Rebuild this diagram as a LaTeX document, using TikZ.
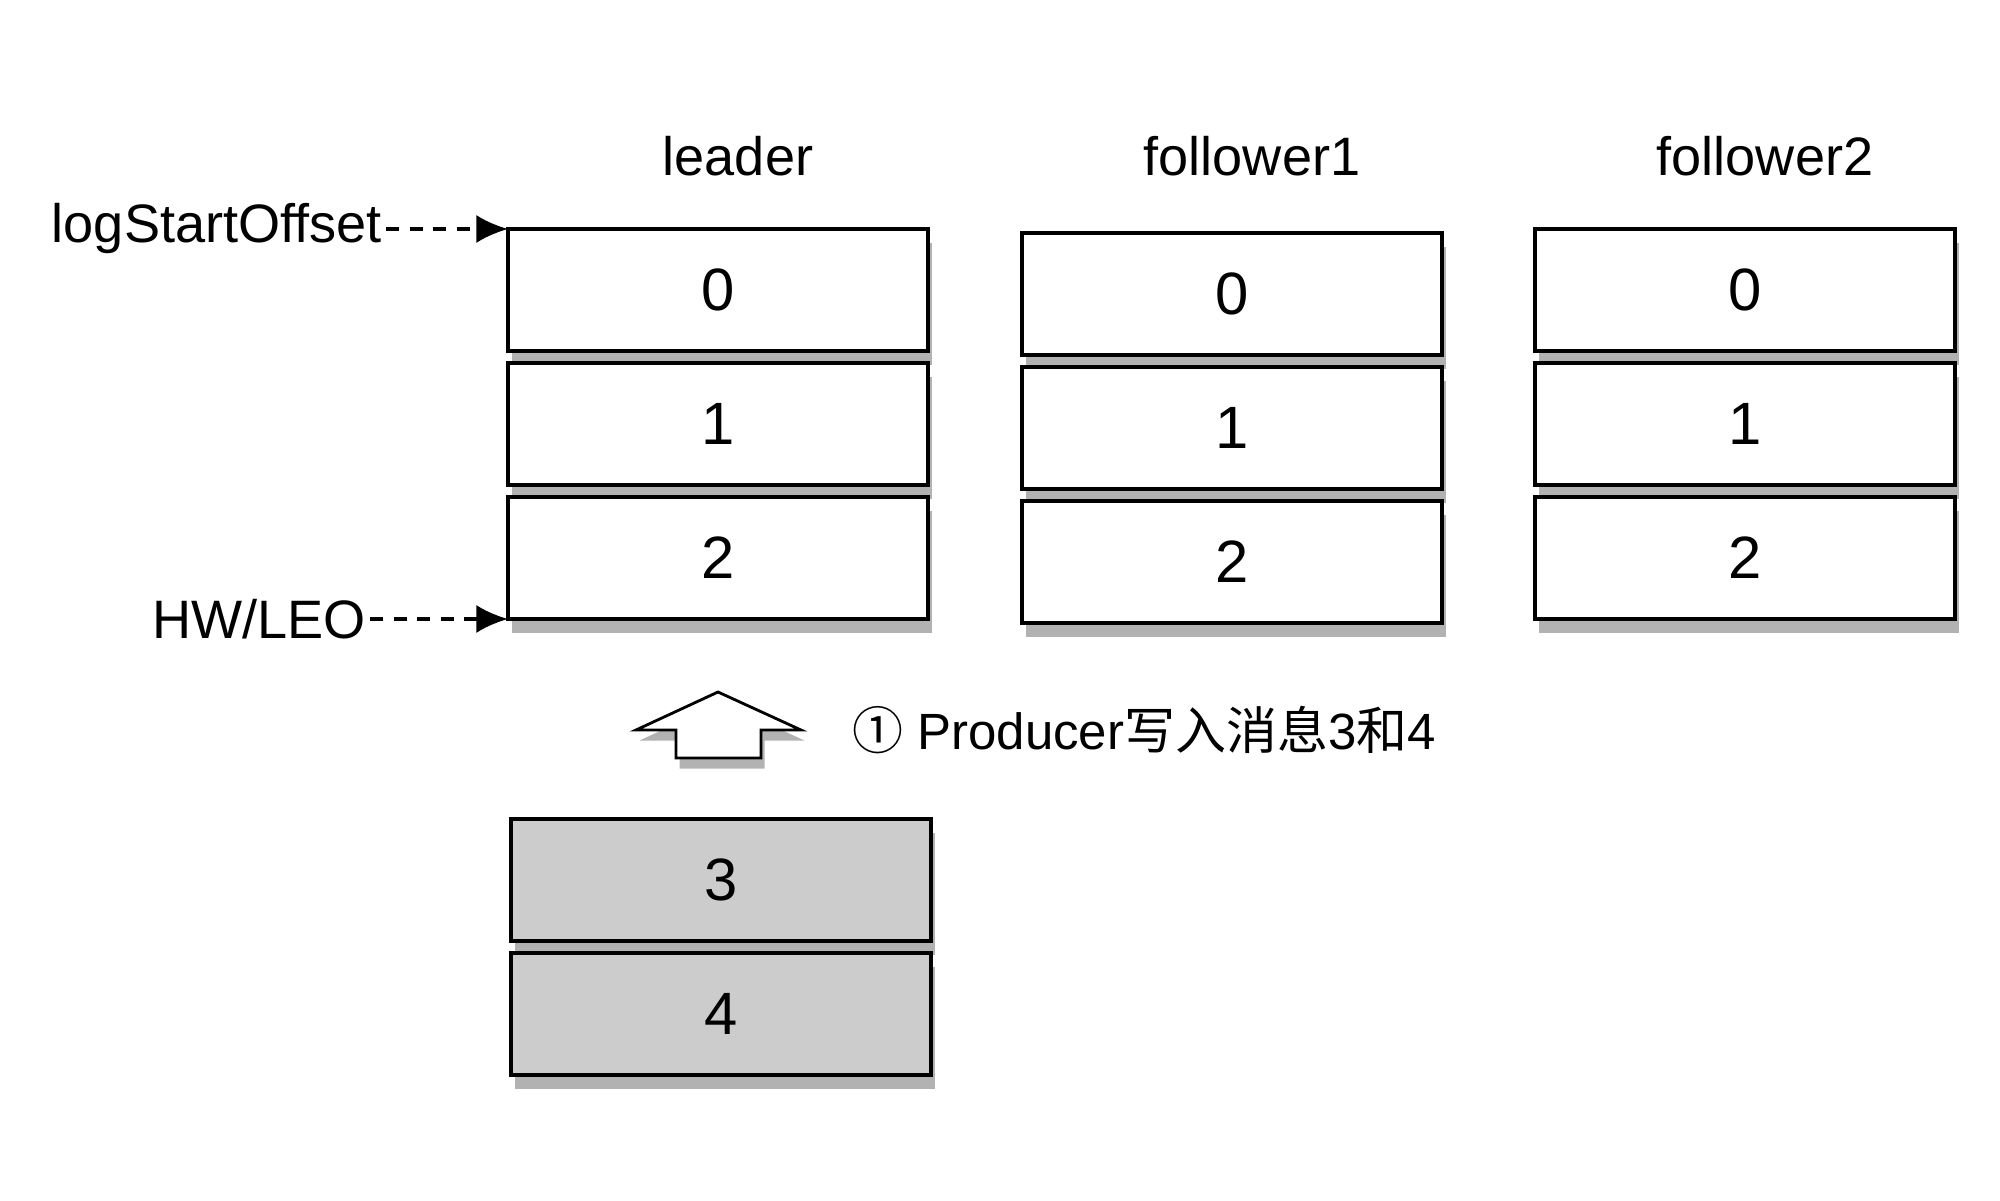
\documentclass[tikz,border=0pt]{standalone}
\usepackage{fontspec}
\setmainfont{Liberation Sans}
\newfontfamily\cjk{Noto Sans CJK SC}
\usetikzlibrary{positioning,shadows,arrows.meta}
\tikzset{
  cell/.style={draw, line width=1.2pt, fill=white, minimum width=4.2cm,
    minimum height=1.22cm, outer sep=0pt, font=\fontsize{17}{20}\selectfont,
    drop shadow={shadow xshift=1pt, shadow yshift=-4pt, fill=black!60, opacity=0.5}},
  newcell/.style={cell, fill=black!20},
  title/.style={font=\fontsize{15.4}{18}\selectfont},
  marker/.style={dash pattern=on 3.7pt off 3pt, line width=1pt, -{Latex[length=9pt,width=8pt]}}
}
\begin{document}
\begin{tikzpicture}
\useasboundingbox (0,0) rectangle (20,12);
% replicas with messages 0..2
\foreach \name/\x/\y/\lbl in {l/7.18/9.10/leader, fa/12.32/9.06/follower1, fb/17.45/9.10/follower2} {
  \node[title] (\name t) at (\x+0.20,10.44) {\lbl};
  \node[cell] (\name0) at (\x,\y) {0};
  \node[cell, below=0.12cm of \name0] (\name1) {1};
  \node[cell, below=0.12cm of \name1] (\name2) {2};
}
% offsets of the leader
\node[title, anchor=east, inner sep=1pt] (lso) at ([xshift=-1.22cm]l0.north west) {logStartOffset};
\draw[marker] (lso.east) -- (l0.north west);
\node[title, anchor=east, inner sep=1pt] (hwleo) at ([xshift=-1.38cm]l2.south west) {HW/LEO};
\draw[marker] (hwleo.east) -- (l2.south west);
% new messages
\node[newcell] (l3) at (7.21,3.20) {3};
\node[newcell, below=0.12cm of l3] (l4) {4};
\draw[line width=0.8pt, fill=white, drop shadow={shadow xshift=1pt, shadow yshift=-3pt, fill=black!60, opacity=0.5}]
  (7.18,5.08) -- (8.01,4.70) -- (7.61,4.70) -- (7.61,4.42) -- (6.76,4.42) -- (6.76,4.70) -- (6.36,4.70) -- cycle;
\node[anchor=west, font=\fontsize{14.5}{17}\selectfont] (step1) at (8.40,4.70) {{\cjk ①} Producer{\cjk 写入消息}3{\cjk 和}4};
\end{tikzpicture}
\end{document}
